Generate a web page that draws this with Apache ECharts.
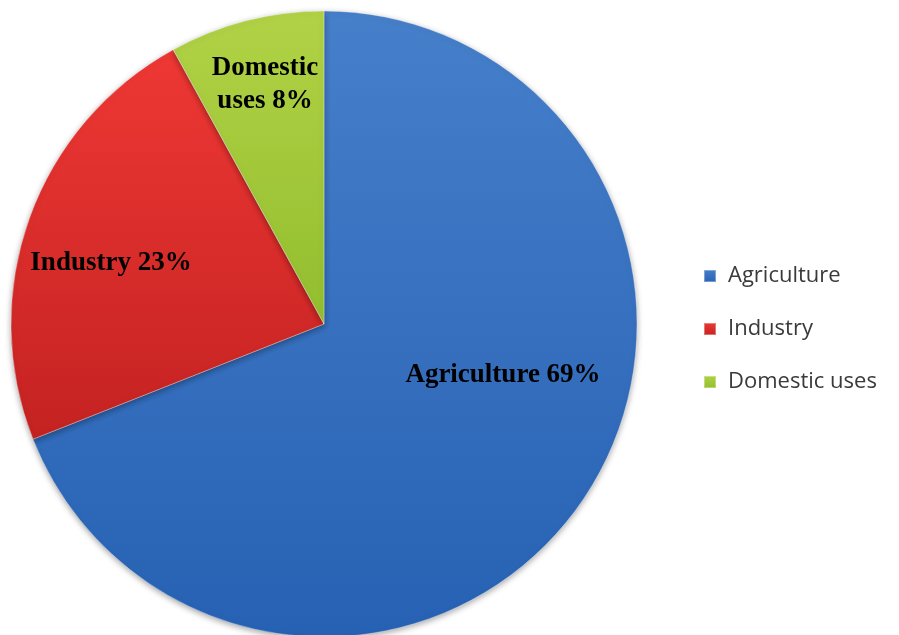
<!DOCTYPE html>
<html>
<head>
<meta charset="utf-8">
<script src="https://cdn.jsdelivr.net/npm/echarts@6/dist/echarts.min.js"></script>
<style>
  html, body { margin: 0; padding: 0; background: #fff; }
  #chart { width: 899px; height: 635px; }
</style>
</head>
<body>
<div id="chart"></div>
<script>
const categories = ['Agriculture', 'Industry', 'Domestic uses'];
const shares = [69, 23, 8];
const sliceLabels = ['Agriculture 69%', 'Industry 23%', 'Domestic\nuses 8%'];

// light / dark ends of each slice gradient
const palette = [
  ['#467fca', '#2761b3'],
  ['#ee3834', '#c42222'],
  ['#b2d246', '#92be2e']
];
// label anchor points (px) to mimic the original placement
const labelSpots = [[503, 375], [111, 263], [265, 85]];

const chart = echarts.init(document.getElementById('chart'));

const seriesData = categories.map((name, i) => ({
  name,
  value: shares[i],
  label: { formatter: sliceLabels[i] },
  itemStyle: {
    color: new echarts.graphic.LinearGradient(0, 0, 0, 1, [
      { offset: 0, color: palette[i][0] },
      { offset: 1, color: palette[i][1] }
    ]),
    borderColor: 'rgba(255,255,255,0.35)',
    borderWidth: 1
  }
}));

chart.setOption({
  animation: false,
  legend: {
    orient: 'vertical',
    left: 703,
    top: 261,
    padding: 0,
    itemWidth: 12,
    itemHeight: 12,
    itemGap: 23,
    icon: 'rect',
    textStyle: {
      fontFamily: 'Open Sans',
      fontSize: 22,
      lineHeight: 30,
      color: '#3a3a3a',
      padding: [0, 0, 0, 7]
    },
    data: categories
  },
  series: [{
    type: 'pie',
    center: [324, 324],
    radius: 313,
    startAngle: 90,
    clockwise: true,
    label: {
      show: true,
      position: 'inside',
      color: '#000',
      fontFamily: 'Liberation Serif',
      fontWeight: 'bold',
      fontSize: 27,
      lineHeight: 33,
      align: 'center'
    },
    labelLine: { show: false },
    labelLayout: params => ({
      x: labelSpots[params.dataIndex][0],
      y: labelSpots[params.dataIndex][1],
      align: 'center',
      verticalAlign: 'middle'
    }),
    itemStyle: {
      shadowBlur: 6,
      shadowColor: 'rgba(0,0,0,0.35)',
      shadowOffsetY: 2
    },
    emphasis: { disabled: true },
    data: seriesData
  }]
});
</script>
</body>
</html>
